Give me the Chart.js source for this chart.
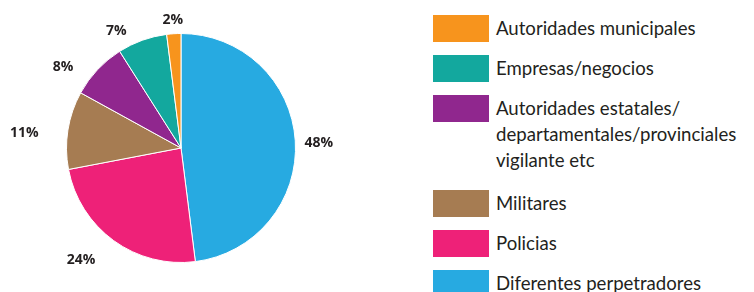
<!DOCTYPE html>
<html>
<head>
<meta charset="utf-8">
<script src="https://cdn.jsdelivr.net/npm/chart.js@4"></script>
<style>
  body { margin: 0; background: #fff; width: 754px; height: 292px; overflow: hidden; position: relative; font-family: "Lato", sans-serif; }
  #pieWrap { position: absolute; left: 0; top: 0; width: 380px; height: 292px; }
  #legend { position: absolute; left: 433px; top: 15px; margin: 0; padding: 0; list-style: none; }
  #legend li { position: relative; padding-left: 63px; margin-bottom: 13px; min-height: 27px; color: #231f20; font-size: 18.6px; line-height: 26px; white-space: nowrap; }
  #legend li.multi { margin-bottom: 17px; }
  #legend li span.box { position: absolute; left: 0; top: 0; width: 56px; height: 27px; }
</style>
</head>
<body>
<div id="pieWrap"><canvas id="pieChart"></canvas></div>
<ul id="legend"></ul>
<script>
// data, in drawing order (clockwise from 12 o'clock)
const labels = [
  'Diferentes perpetradores',
  'Policias',
  'Militares',
  'Autoridades estatales/\ndepartamentales/provinciales\nvigilante etc',
  'Empresas/negocios',
  'Autoridades municipales'
];
const values = [48, 24, 11, 8, 7, 2];
const colors = ['#27AAE1', '#EE2178', '#A67C52', '#90278E', '#13A89E', '#F7941D'];

// percentage labels outside the slices
const outsideLabels = {
  id: 'outsideLabels',
  afterDatasetsDraw(chart) {
    const ctx = chart.ctx;
    const meta = chart.getDatasetMeta(0);
    ctx.save();
    ctx.font = 'bold 14px "Open Sans", sans-serif';
    ctx.fillStyle = '#231f20';
    ctx.textAlign = 'center';
    ctx.textBaseline = 'middle';
    meta.data.forEach((arc, i) => {
      const mid = (arc.startAngle + arc.endAngle) / 2;
      const txt = values[i] + '%';
      const hw = ctx.measureText(txt).width / 2;
      const cx = Math.cos(mid), sy = Math.sin(mid);
      const d = arc.outerRadius + 9 + hw * Math.abs(cx) + 5 * Math.abs(sy);
      // left-hand labels sit a little further out, as in the source
      const left = Math.min(1, Math.max(0, -cx - 0.1) * 5);
      const dx = -20 * left;
      const dy = 4 * Math.abs(cx) + 16 * Math.max(0, -cx) * Math.max(0, -sy);
      ctx.fillText(txt, arc.x + cx * d + dx, arc.y + sy * d + dy);
    });
    ctx.restore();
  }
};

new Chart(document.getElementById('pieChart').getContext('2d'), {
  type: 'pie',
  data: {
    labels: labels,
    datasets: [{
      data: values,
      backgroundColor: colors,
      borderColor: '#ffffff',
      borderWidth: 1
    }]
  },
  options: {
    responsive: true,
    maintainAspectRatio: false,
    animation: false,
    layout: { padding: { left: 66, right: 84, top: 33, bottom: 29 } },
    plugins: { legend: { display: false }, tooltip: { enabled: false } }
  },
  plugins: [outsideLabels]
});

// legend, listed in reverse order
const legend = document.getElementById('legend');
for (let i = labels.length - 1; i >= 0; i--) {
  const li = document.createElement('li');
  const box = document.createElement('span');
  box.className = 'box';
  box.style.background = colors[i];
  li.appendChild(box);
  const lines = labels[i].split('\n');
  if (lines.length > 1) li.className = 'multi';
  lines.forEach((line, k) => {
    if (k > 0) li.appendChild(document.createElement('br'));
    li.appendChild(document.createTextNode(line));
  });
  legend.appendChild(li);
}
</script>
</body>
</html>
